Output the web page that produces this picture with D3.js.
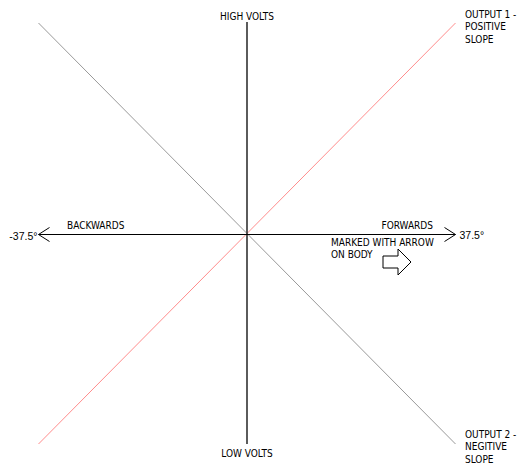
<!DOCTYPE html>
<html>
<head>
<style>
  body { margin: 0; background: #fff; }
  .lbl { font-family: "DejaVu Sans Condensed", "DejaVu Sans", sans-serif; font-size: 10px; fill: #000; }
  .deg { font-family: "Liberation Sans", Arial, sans-serif; font-size: 10.5px; fill: #000; }
</style>
<script src="https://cdnjs.cloudflare.com/ajax/libs/d3/7.8.5/d3.min.js"></script>
</head>
<body>
<svg id="chart" width="521" height="464"></svg>
<script>
// tilt angle (degrees) against output (relative volts)
const angles = [-37.5, 37.5];
const output1 = [-1, 1];   // positive slope
const output2 = [1, -1];   // negative slope
const angleLabels = ["-37.5°", "37.5°"];

const svg = d3.select("#chart");
const x = d3.scaleLinear().domain([-37.5, 37.5]).range([38.5, 455.5]);
const y = d3.scaleLinear().domain([-1, 1]).range([444, 23]);

const line = d3.line().x(d => x(d[0])).y(d => y(d[1]));

// diagonals
svg.append("path").datum(d3.zip(angles, output2))
  .attr("d", line).attr("fill", "none").attr("stroke", "#999").attr("stroke-width", 1);
svg.append("path").datum(d3.zip(angles, output1))
  .attr("d", line).attr("fill", "none").attr("stroke", "#ff8c8c").attr("stroke-width", 1);

// vertical axis
svg.append("line")
  .attr("x1", x(0)).attr("x2", x(0)).attr("y1", y(1) - 1).attr("y2", y(-1))
  .attr("stroke", "#333").attr("stroke-width", 1.6);

// horizontal axis with open arrowheads
const y0 = Math.round(y(0)) + 0.5;
svg.append("line")
  .attr("x1", x(-37.5)).attr("x2", x(37.5)).attr("y1", y0).attr("y2", y0)
  .attr("stroke", "#000").attr("stroke-width", 1);
[[x(-37.5), 1], [x(37.5), -1]].forEach(([tx, dir]) => {
  svg.append("path")
    .attr("d", `M${tx + dir * 11},${y0 - 7}L${tx},${y0}L${tx + dir * 11},${y0 + 7}`)
    .attr("fill", "none").attr("stroke", "#000").attr("stroke-width", 1);
});

svg.append("text").attr("class", "deg").attr("x", x(-37.5) - 1).attr("y", y0 + 5)
  .attr("text-anchor", "end").text(angleLabels[0]);
svg.append("text").attr("class", "deg").attr("x", x(37.5) + 4).attr("y", y0 + 4)
  .attr("text-anchor", "start").text(angleLabels[1]);

function label(tx, ty, lines, anchor) {
  const t = svg.append("text").attr("class", "lbl").attr("text-anchor", anchor || "start");
  lines.forEach((s, i) => t.append("tspan").attr("x", tx).attr("y", ty + i * 12.3).text(s));
}

label(x(0), 20, ["HIGH VOLTS"], "middle");
label(x(0), 457, ["LOW VOLTS"], "middle");
label(465, 18, ["OUTPUT 1 -", "POSITIVE", "SLOPE"]);
label(465, 438, ["OUTPUT 2 -", "NEGITIVE", "SLOPE"]);
label(67, 229, ["BACKWARDS"]);
label(433, 229, ["FORWARDS"], "end");
label(331, 246, ["MARKED WITH ARROW", "ON BODY"]);

// outline arrow marking the body
const ax = 383, ay = 262;
svg.append("path")
  .attr("d", `M${ax},${ay - 6}H${ax + 15}V${ay - 13}L${ax + 28},${ay}L${ax + 15},${ay + 13}V${ay + 6}H${ax}Z`)
  .attr("fill", "none").attr("stroke", "#000").attr("stroke-width", 1);
</script>
</body>
</html>
